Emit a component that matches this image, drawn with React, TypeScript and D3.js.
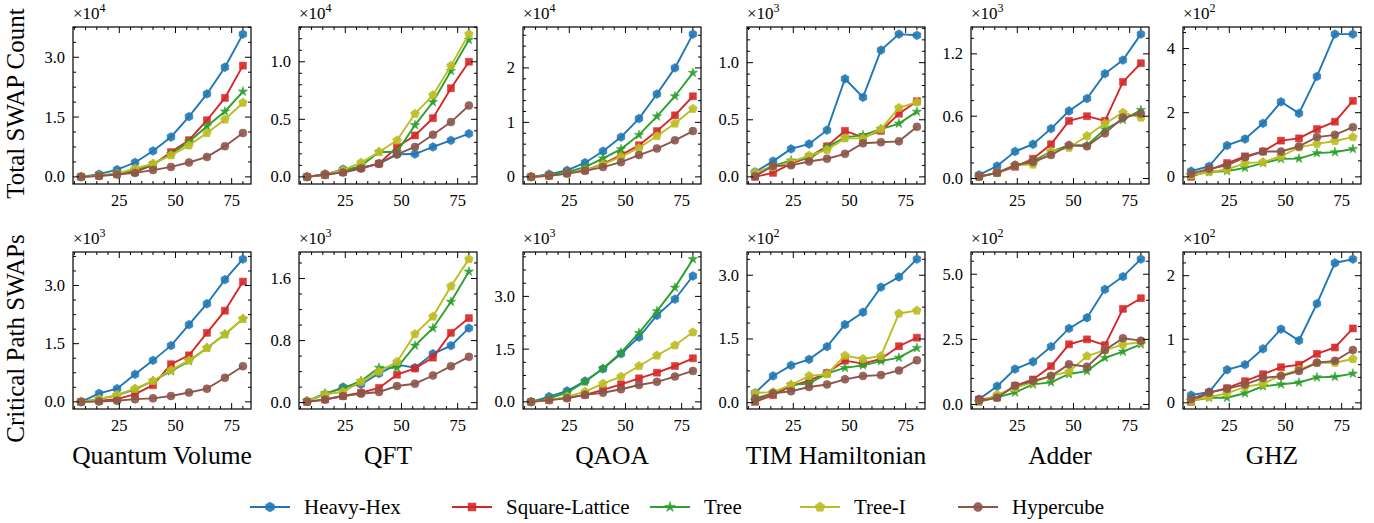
import * as d3 from "d3";

const xs = [8, 16, 24, 32, 40, 48, 56, 64, 72, 80];
const seriesNames = ["Heavy-Hex", "Square-Lattice", "Tree", "Tree-I", "Hypercube"];
const seriesColors = ["#1f77b4", "#d62728", "#2ca02c", "#bcbd22", "#8c564b"];
const seriesMarkers = ["hexagon", "square", "star", "pentagon", "circle"];
const titles = ["Quantum Volume", "QFT", "QAOA", "TIM Hamiltonian", "Adder", "GHZ"];
const rowLabels = ["Total SWAP Count", "Critical Path SWAPs"];

// values already divided by 10^exponent (as printed on the axes)
// order inside each: Heavy-Hex, Square-Lattice, Tree, Tree-I, Hypercube
const qvTotal = [
  [0.0, 0.067, 0.18, 0.36, 0.65, 1.0, 1.51, 2.08, 2.75, 3.58],
  [0.0, 0.03, 0.07, 0.12, 0.3, 0.62, 0.92, 1.42, 1.98, 2.79],
  [0.0, 0.03, 0.08, 0.17, 0.32, 0.57, 0.88, 1.27, 1.64, 2.14],
  [0.0, 0.03, 0.08, 0.21, 0.33, 0.54, 0.79, 1.1, 1.44, 1.86],
  [0.0, 0.02, 0.06, 0.1, 0.17, 0.25, 0.36, 0.5, 0.77, 1.1],
];
const qftTotal = [
  [0.0, 0.02, 0.066, 0.078, 0.115, 0.196, 0.198, 0.26, 0.317, 0.375],
  [0.0, 0.015, 0.043, 0.078, 0.115, 0.26, 0.36, 0.51, 0.77, 1.0],
  [0.0, 0.023, 0.052, 0.095, 0.216, 0.216, 0.45, 0.65, 0.92, 1.19],
  [0.0, 0.023, 0.058, 0.124, 0.216, 0.317, 0.548, 0.71, 0.965, 1.24],
  [0.0, 0.023, 0.037, 0.072, 0.115, 0.196, 0.26, 0.366, 0.476, 0.62],
];
const qaoaTotal = [
  [0.0, 0.05, 0.12, 0.26, 0.47, 0.73, 1.07, 1.52, 2.0, 2.62],
  [0.0, 0.02, 0.07, 0.12, 0.24, 0.4, 0.58, 0.84, 1.13, 1.48],
  [0.0, 0.03, 0.09, 0.18, 0.34, 0.51, 0.77, 1.11, 1.48, 1.91],
  [0.0, 0.02, 0.06, 0.12, 0.23, 0.37, 0.53, 0.75, 0.98, 1.25],
  [0.0, 0.02, 0.06, 0.11, 0.18, 0.27, 0.4, 0.52, 0.67, 0.84],
];
const timTotal = [
  [0.043, 0.138, 0.245, 0.288, 0.409, 0.859, 0.697, 1.11, 1.25, 1.24],
  [0.0, 0.035, 0.115, 0.173, 0.268, 0.403, 0.346, 0.403, 0.553, 0.663],
  [0.03, 0.095, 0.144, 0.159, 0.26, 0.346, 0.366, 0.418, 0.467, 0.571],
  [0.037, 0.086, 0.13, 0.187, 0.236, 0.337, 0.337, 0.418, 0.605, 0.654],
  [0.006, 0.095, 0.101, 0.135, 0.159, 0.202, 0.294, 0.303, 0.311, 0.438],
];
const adderTotal = [
  [0.035, 0.12, 0.26, 0.33, 0.48, 0.65, 0.77, 1.01, 1.14, 1.39],
  [0.023, 0.055, 0.113, 0.19, 0.33, 0.555, 0.6, 0.555, 0.93, 1.11],
  [0.016, 0.055, 0.126, 0.168, 0.26, 0.32, 0.32, 0.474, 0.565, 0.66],
  [0.016, 0.055, 0.129, 0.135, 0.26, 0.297, 0.41, 0.53, 0.635, 0.587],
  [0.016, 0.055, 0.129, 0.16, 0.226, 0.32, 0.31, 0.435, 0.587, 0.626],
];
const ghzTotal = [
  [0.175, 0.33, 0.98, 1.18, 1.67, 2.34, 1.98, 3.13, 4.45, 4.45],
  [0.0, 0.21, 0.43, 0.64, 0.79, 1.13, 1.2, 1.49, 1.72, 2.37],
  [0.05, 0.15, 0.18, 0.28, 0.43, 0.56, 0.57, 0.74, 0.77, 0.87],
  [0.05, 0.15, 0.23, 0.43, 0.46, 0.64, 0.92, 1.03, 1.12, 1.24],
  [0.1, 0.25, 0.36, 0.61, 0.79, 0.79, 0.95, 1.24, 1.31, 1.55],
];
const qvCritical = [
  [0.0, 0.22, 0.34, 0.71, 1.07, 1.45, 1.99, 2.53, 3.15, 3.68],
  [0.0, 0.03, 0.07, 0.2, 0.43, 0.97, 1.2, 1.78, 2.35, 3.1],
  [0.0, 0.07, 0.17, 0.32, 0.54, 0.79, 1.05, 1.39, 1.74, 2.14],
  [0.0, 0.07, 0.18, 0.34, 0.54, 0.82, 1.07, 1.39, 1.74, 2.14],
  [0.0, 0.01, 0.03, 0.07, 0.09, 0.15, 0.24, 0.34, 0.62, 0.92],
];
const qftCritical = [
  [0.02, 0.107, 0.2, 0.235, 0.376, 0.49, 0.45, 0.63, 0.735, 0.96],
  [0.01, 0.04, 0.085, 0.128, 0.19, 0.36, 0.44, 0.58, 0.9, 1.09],
  [0.02, 0.12, 0.184, 0.28, 0.45, 0.45, 0.735, 0.96, 1.3, 1.69],
  [0.02, 0.107, 0.14, 0.27, 0.4, 0.526, 0.885, 1.11, 1.5, 1.85],
  [0.01, 0.04, 0.085, 0.115, 0.137, 0.214, 0.244, 0.35, 0.47, 0.59],
];
const qaoaCritical = [
  [0.0, 0.15, 0.31, 0.59, 0.94, 1.37, 1.84, 2.46, 2.92, 3.58],
  [0.0, 0.05, 0.12, 0.2, 0.34, 0.5, 0.67, 0.83, 1.02, 1.24],
  [0.0, 0.1, 0.26, 0.57, 0.95, 1.4, 1.96, 2.58, 3.25, 4.06],
  [0.0, 0.05, 0.15, 0.29, 0.52, 0.72, 1.02, 1.32, 1.61, 1.98],
  [0.0, 0.05, 0.1, 0.2, 0.26, 0.36, 0.48, 0.57, 0.72, 0.88],
];
const timCritical = [
  [0.23, 0.63, 0.88, 1.02, 1.32, 1.84, 2.13, 2.72, 2.96, 3.38],
  [0.02, 0.18, 0.39, 0.52, 0.7, 0.99, 0.92, 1.03, 1.33, 1.53],
  [0.04, 0.23, 0.42, 0.45, 0.69, 0.82, 0.88, 0.98, 1.06, 1.29],
  [0.23, 0.25, 0.42, 0.63, 0.67, 1.11, 1.03, 1.1, 2.1, 2.17],
  [0.1, 0.22, 0.27, 0.37, 0.43, 0.55, 0.63, 0.65, 0.76, 1.0],
];
const adderCritical = [
  [0.2, 0.7, 1.36, 1.64, 2.22, 2.92, 3.33, 4.42, 4.91, 5.58],
  [0.19, 0.27, 0.72, 0.96, 1.47, 2.31, 2.5, 2.28, 3.67, 4.08],
  [0.1, 0.27, 0.46, 0.77, 0.85, 1.17, 1.28, 1.79, 2.03, 2.31],
  [0.1, 0.38, 0.64, 0.85, 1.1, 1.26, 1.86, 2.09, 2.3, 2.4],
  [0.14, 0.26, 0.72, 0.9, 1.09, 1.54, 1.45, 2.09, 2.54, 2.45],
];
const ghzCritical = [
  [0.12, 0.17, 0.52, 0.6, 0.85, 1.16, 0.98, 1.56, 2.2, 2.26],
  [0.015, 0.16, 0.23, 0.34, 0.45, 0.56, 0.6, 0.77, 0.87, 1.17],
  [0.03, 0.08, 0.08, 0.15, 0.26, 0.29, 0.32, 0.4, 0.41, 0.46],
  [0.03, 0.09, 0.15, 0.25, 0.3, 0.43, 0.52, 0.63, 0.63, 0.69],
  [0.06, 0.16, 0.22, 0.29, 0.39, 0.42, 0.5, 0.63, 0.66, 0.83],
];

const totalData = [qvTotal, qftTotal, qaoaTotal, timTotal, adderTotal, ghzTotal];
const criticalData = [qvCritical, qftCritical, qaoaCritical, timCritical, adderCritical, ghzCritical];
const totalExp = [4, 4, 4, 3, 3, 2];
const criticalExp = [3, 3, 3, 2, 2, 2];
const totalTicks = [[0, 1.5, 3.0], [0, 0.5, 1.0], [0, 1, 2], [0, 0.5, 1.0], [0, 0.6, 1.2], [0, 2, 4]];
const criticalTicks = [[0, 1.5, 3.0], [0, 0.8, 1.6], [0, 1.5, 3.0], [0, 1.5, 3.0], [0, 2.5, 5.0], [0, 1, 2]];
const xTicks = [25, 50, 75];

// layout
const W = 1374, H = 523;
const panelLeft = [73, 299, 523, 747, 971, 1183];
const panelW = 178;
const rowTop = [27, 252];
const panelH = 157;
const FONT = "'Liberation Serif', 'DejaVu Serif', serif";

function markerPath(kind: string, r: number) {
  if (kind === "circle") return d3.symbol(d3.symbolCircle, Math.PI * r * r)()!;
  if (kind === "square") return d3.symbol(d3.symbolSquare, (r * 1.75) ** 2)()!;
  if (kind === "star") return d3.symbol(d3.symbolStar, r * r * 1.7)()!;
  const n = kind === "hexagon" ? 6 : 5;
  const rr = kind === "hexagon" ? r * 1.1 : r * 1.15;
  const pts = d3.range(n).map((i) => {
    const a = -Math.PI / 2 + (i * 2 * Math.PI) / n;
    return [rr * Math.cos(a), rr * Math.sin(a)];
  });
  return "M" + pts.map((p) => p.join(",")).join("L") + "Z";
}

function minorDivs(step: number) {
  const e = Math.floor(Math.log10(step));
  const m = step / Math.pow(10, e);
  return [1, 2.5, 5, 10].some((v) => Math.abs(v - m) < 1e-6) ? 5 : 4;
}

function Panel({ data, ticks, exp, left, top, title }: any) {
  const x = d3.scaleLinear().domain([4.4, 83.6]).range([left, left + panelW]);
  const all = data.flat();
  const lo = d3.min(all) as number, hi = d3.max(all) as number;
  const pad = (hi - lo) * 0.05;
  const y = d3.scaleLinear().domain([lo - pad, hi + pad]).range([top + panelH, top]);
  const bottom = top + panelH, right = left + panelW;
  const step = ticks[1] - ticks[0];
  const isInt = Number.isInteger(step);
  const fmt = (v: number) => (isInt ? d3.format("d")(v) : d3.format(".1f")(v));
  const mStep = step / minorDivs(step);
  const yMinor: number[] = [];
  for (let v = Math.ceil((lo - pad) / mStep) * mStep; v <= hi + pad; v += mStep) {
    if (!ticks.some((t: number) => Math.abs(t - v) < mStep / 10)) yMinor.push(v);
  }
  const xMinor = d3.range(5, 84, 5).filter((v) => !xTicks.includes(v));
  const line = d3.line<number>().x((_, i) => x(xs[i])).y((d) => y(d));
  const maj = 6, mn = 3;
  return (
    <g>
      {seriesNames.map((s, si) => (
        <g key={s}>
          <path d={line(data[si])!} fill="none" stroke={seriesColors[si]} strokeWidth={1.9} />
          {data[si].map((v: number, i: number) => (
            <path
              key={i}
              d={markerPath(seriesMarkers[si], 4)}
              transform={`translate(${x(xs[i])},${y(v)})`}
              fill={seriesColors[si]}
              stroke={seriesColors[si]}
              strokeOpacity={0.5}
              strokeWidth={1}
              fillOpacity={0.9}
            />
          ))}
        </g>
      ))}
      <rect x={left} y={top} width={panelW} height={panelH} fill="none" stroke="#000" strokeWidth={1.2} />
      {xTicks.map((t) => (
        <g key={"xt" + t}>
          <line x1={x(t)} x2={x(t)} y1={bottom} y2={bottom - maj} stroke="#000" />
          <line x1={x(t)} x2={x(t)} y1={top} y2={top + maj} stroke="#000" />
          <text x={x(t)} y={bottom + 22} textAnchor="middle" fontSize={16.5} fontFamily={FONT}>{t}</text>
        </g>
      ))}
      {xMinor.map((t) => (
        <g key={"xm" + t}>
          <line x1={x(t)} x2={x(t)} y1={bottom} y2={bottom - mn} stroke="#000" />
          <line x1={x(t)} x2={x(t)} y1={top} y2={top + mn} stroke="#000" />
        </g>
      ))}
      {ticks.map((t: number) => (
        <g key={"yt" + t}>
          <line x1={left} x2={left + maj} y1={y(t)} y2={y(t)} stroke="#000" />
          <line x1={right} x2={right - maj} y1={y(t)} y2={y(t)} stroke="#000" />
          <text x={left - 8} y={y(t) + 5.5} textAnchor="end" fontSize={16.5} fontFamily={FONT}>{fmt(t)}</text>
        </g>
      ))}
      {yMinor.map((t, i) => (
        <g key={"ym" + i}>
          <line x1={left} x2={left + mn} y1={y(t)} y2={y(t)} stroke="#000" />
          <line x1={right} x2={right - mn} y1={y(t)} y2={y(t)} stroke="#000" />
        </g>
      ))}
      <text x={left} y={top - 8} fontSize={17} fontFamily={FONT}>
        ×10<tspan dy={-7} fontSize={12}>{exp}</tspan>
      </text>
      {title && (
        <text x={left + panelW / 2} y={464} textAnchor="middle" fontSize={25.5} fontFamily={FONT}>{title}</text>
      )}
    </g>
  );
}

const legendX = [250, 452, 650, 800, 958];

export default function App() {
  return (
    <svg width={W} height={H} style={{ display: "block", position: "absolute", left: 0, top: 0, background: "#fff" }}>
      {totalData.map((d, i) => (
        <Panel key={"t" + i} data={d} ticks={totalTicks[i]} exp={totalExp[i]} left={panelLeft[i]} top={rowTop[0]} />
      ))}
      {criticalData.map((d, i) => (
        <Panel key={"c" + i} data={d} ticks={criticalTicks[i]} exp={criticalExp[i]} left={panelLeft[i]} top={rowTop[1]} title={titles[i]} />
      ))}
      {rowLabels.map((l, i) => (
        <text key={l} transform={`translate(24,${rowTop[i] + panelH / 2 + (i === 0 ? -2 : 8)}) rotate(-90)`} textAnchor="middle" fontSize={25} fontFamily={FONT}>{l}</text>
      ))}
      {seriesNames.map((s, i) => (
        <g key={s} transform={`translate(${legendX[i]},507)`}>
          <line x1={0} x2={40} y1={0} y2={0} stroke={seriesColors[i]} strokeWidth={1.9} />
          <path d={markerPath(seriesMarkers[i], 4.5)} transform="translate(20,0)" fill={seriesColors[i]} stroke={seriesColors[i]} strokeOpacity={0.5} fillOpacity={0.9} />
          <text x={54} y={7} fontSize={21} fontFamily={FONT}>{s}</text>
        </g>
      ))}
    </svg>
  );
}
